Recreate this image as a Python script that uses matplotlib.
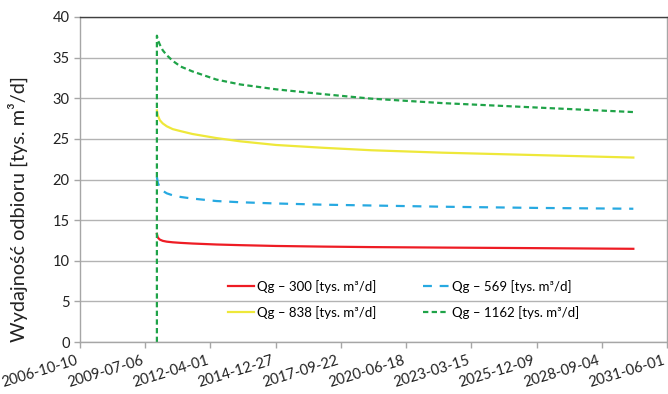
import numpy as np
import pandas as pd
import matplotlib
matplotlib.use("Agg")
import matplotlib.pyplot as plt

plt.rcParams['font.family'] = ['Lato', 'DejaVu Sans']

# data
dates = ["2010-01-01", "2010-01-15", "2010-02-15", "2010-04-01", "2010-06-01",
         "2010-09-01", "2011-01-01", "2011-07-01", "2012-07-01", "2013-07-01",
         "2015-01-01", "2017-01-01", "2019-01-01", "2022-01-01", "2026-01-01",
         "2030-01-01"]
q300 = [13.3, 12.85, 12.6, 12.45, 12.35, 12.27, 12.2, 12.12, 12.0, 11.92,
        11.82, 11.74, 11.68, 11.62, 11.55, 11.47]
q569 = [20.3, 19.6, 19.0, 18.6, 18.3, 18.05, 17.85, 17.65, 17.35, 17.2,
        17.05, 16.9, 16.8, 16.65, 16.5, 16.4]
q838 = [28.5, 27.9, 27.3, 26.9, 26.55, 26.2, 25.95, 25.6, 25.1, 24.7,
        24.25, 23.9, 23.6, 23.3, 23.0, 22.7]
# the 1162 series starts from zero on the first day
dates_1162 = ["2010-01-01"] + dates
q1162 = [0.0, 37.7, 37.2, 36.6, 35.9, 35.3, 34.6, 33.9, 33.3, 32.3, 31.7,
         31.1, 30.5, 29.95, 29.4, 28.85, 28.3]

labels = ["Qg – 300 [tys. m³/d]", "Qg – 569 [tys. m³/d]",
          "Qg – 838 [tys. m³/d]", "Qg – 1162 [tys. m³/d]"]

x = pd.to_datetime(dates)
x_g = pd.to_datetime(dates_1162)

fig = plt.figure(figsize=(6.68, 3.94), dpi=100)
ax = fig.add_axes([80 / 668, 52 / 394, 587 / 668, 325 / 394])

lw = 1.6
l1, = ax.plot(x, q300, color='#EE1C24', lw=lw)
l2, = ax.plot(x, q569, color='#27A9E1', lw=lw, dashes=(4, 3.5))
l3, = ax.plot(x, q838, color='#EEE83A', lw=lw)
l4, = ax.plot(x_g, q1162, color='#1FA348', lw=lw, dashes=(2.4, 1.5))

# x axis: ticks every 1000 days from 2006-10-10
start = pd.Timestamp("2006-10-10")
ticks = [start + pd.Timedelta(days=1000 * i) for i in range(10)]
ax.set_xlim(ticks[0], ticks[-1])
ax.set_xticks(ticks)
ax.set_xticklabels([t.strftime("%Y-%m-%d") for t in ticks], rotation=17,
                   ha='right', va='top')

ax.set_ylim(0, 40)
ax.set_yticks(range(0, 41, 5))
ax.grid(axis='y', color='#B3B3B3', lw=1)
ax.set_axisbelow(True)

ax.tick_params(axis='both', labelsize=10.5, colors='#A6A6A6', labelcolor='#222222',
               length=4, width=1)
ax.tick_params(axis='x', pad=4)
for s in ['left', 'bottom', 'right']:
    ax.spines[s].set_color('#A6A6A6')
    ax.spines[s].set_linewidth(1)
ax.spines['top'].set_color('#404040')
ax.spines['top'].set_linewidth(1)

ax.set_ylabel("Wydajność odbioru [tys. m³/d]", fontsize=14.3, color='#222222')
ax.yaxis.set_label_coords(-0.088, 0.41)

# row-major order like the reference legend
ax.legend([l1, l3, l2, l4], [labels[0], labels[2], labels[1], labels[3]],
          ncol=2, frameon=False, fontsize=9.5,
          loc='upper left', bbox_to_anchor=(0.252, 0.192), borderaxespad=0,
          borderpad=0, handlelength=2.0, handletextpad=0.2,
          columnspacing=3.5, labelspacing=1.0)

fig.savefig("out.png", dpi=100)
